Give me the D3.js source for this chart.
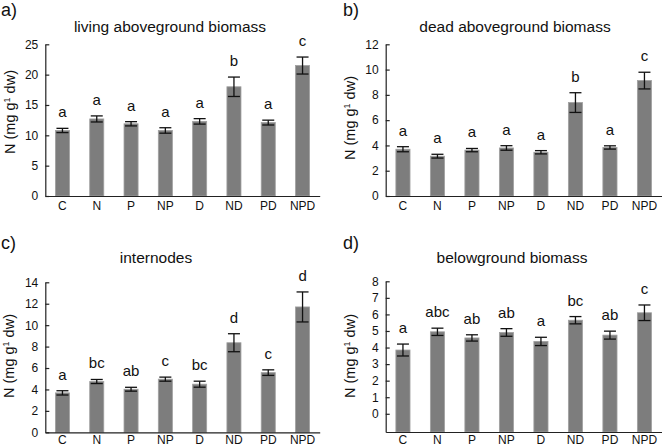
<!DOCTYPE html>
<html>
<head>
<meta charset="utf-8">
<script src="https://cdn.jsdelivr.net/npm/d3@7"></script>
<style>
  html, body { margin: 0; padding: 0; background: #fff; }
  svg { display: block; font-family: "Liberation Sans", Arial, sans-serif; }
</style>
</head>
<body>
<svg id="chart" width="662" height="447"></svg>
<script>
// ---------- data ----------
const categories = ["C", "N", "P", "NP", "D", "ND", "PD", "NPD"];

const livingValues  = [10.8, 12.7, 11.9, 10.8, 12.3, 18.0, 12.1, 21.5];
const livingErrors  = [0.35, 0.5, 0.35, 0.45, 0.45, 1.6, 0.4, 1.4];
const livingLetters = ["a", "a", "a", "a", "a", "b", "a", "c"];
const livingTicks   = [0, 5, 10, 15, 20, 25];

const deadValues  = [3.70, 3.15, 3.63, 3.80, 3.46, 7.39, 3.84, 9.13];
const deadErrors  = [0.2, 0.15, 0.13, 0.18, 0.13, 0.78, 0.13, 0.66];
const deadLetters = ["a", "a", "a", "a", "a", "b", "a", "c"];
const deadTicks   = [0, 2, 4, 6, 8, 10, 12];

const internodeValues  = [3.68, 4.74, 4.02, 4.96, 4.49, 8.36, 5.57, 11.7];
const internodeErrors  = [0.2, 0.19, 0.18, 0.19, 0.28, 0.84, 0.26, 1.4];
const internodeLetters = ["a", "bc", "ab", "c", "bc", "d", "c", "d"];
const internodeTicks   = [0, 2, 4, 6, 8, 10, 12, 14];

const belowValues  = [3.85, 4.95, 4.58, 4.91, 4.37, 5.65, 4.75, 6.1];
const belowErrors  = [0.36, 0.22, 0.19, 0.23, 0.25, 0.22, 0.24, 0.47];
const belowLetters = ["a", "abc", "ab", "ab", "a", "bc", "ab", "c"];
const belowTicks   = [0, 1, 2, 3, 4, 5, 6, 7, 8];

const panelTitles = ["living aboveground biomass", "dead aboveground biomass", "internodes", "belowground biomass"];
const panelTags   = ["a)", "b)", "c)", "d)"];

// ---------- layout ----------
const panels = [
  { tag: panelTags[0], title: panelTitles[0], values: livingValues, errors: livingErrors, letters: livingLetters, ticks: livingTicks,
    domain: [0, 25], x0: 45.3, x1: 319.7, yTop: 44.3, yBot: 196, xPad: 5,
    tagX: 1, tagY: 16, titleX: 170, titleY: 31.5, labX: 10, labY: 112 },
  { tag: panelTags[1], title: panelTitles[1], values: deadValues, errors: deadErrors, letters: deadLetters, ticks: deadTicks,
    domain: [0, 12], x0: 385.7, x1: 661.7, yTop: 44.3, yBot: 196, xPad: 5,
    tagX: 343, tagY: 16, titleX: 515, titleY: 31.5, labX: 350, labY: 118 },
  { tag: panelTags[2], title: panelTitles[2], values: internodeValues, errors: internodeErrors, letters: internodeLetters, ticks: internodeTicks,
    domain: [0, 14], x0: 45.3, x1: 319.7, yTop: 282.3, yBot: 432.3, xPad: 3,
    tagX: 1, tagY: 249, titleX: 156, titleY: 262.5, labX: 9, labY: 356 },
  { tag: panelTags[3], title: panelTitles[3], values: belowValues, errors: belowErrors, letters: belowLetters, ticks: belowTicks,
    domain: [-1.1, 8], x0: 385.7, x1: 661.7, yTop: 281.3, yBot: 432, xPad: 3,
    tagX: 343, tagY: 249, titleX: 512, titleY: 263, labX: 350, labY: 356 }
];

const svg = d3.select("#chart");

panels.forEach(p => {
  const g = svg.append("g");

  const x = d3.scaleBand().domain(categories).range([p.x0, p.x1])
    .paddingInner(0.59).paddingOuter(0.295);
  const y = d3.scaleLinear().domain(p.domain).range([p.yBot, p.yTop]);
  const base = y(p.domain[0]);

  // bars
  g.selectAll("rect.bar").data(categories).enter().append("rect")
    .attr("class", "bar")
    .attr("x", d => x(d))
    .attr("width", x.bandwidth())
    .attr("y", (d, i) => y(p.values[i]))
    .attr("height", (d, i) => base - y(p.values[i]))
    .attr("fill", "#7d7d7d")
    .attr("stroke", "#a0a0a0")
    .attr("stroke-width", 0.8);

  // error bars
  const cap = 6;
  categories.forEach((c, i) => {
    const cx = x(c) + x.bandwidth() / 2;
    const hi = y(p.values[i] + p.errors[i]);
    const lo = y(p.values[i] - p.errors[i]);
    g.append("line").attr("x1", cx).attr("x2", cx).attr("y1", hi).attr("y2", lo)
      .attr("stroke", "#111").attr("stroke-width", 1.3);
    g.append("line").attr("x1", cx - cap).attr("x2", cx + cap).attr("y1", hi).attr("y2", hi)
      .attr("stroke", "#111").attr("stroke-width", 1.3);
    g.append("line").attr("x1", cx - cap).attr("x2", cx + cap).attr("y1", lo).attr("y2", lo)
      .attr("stroke", "#111").attr("stroke-width", 1.3);
    g.append("text").attr("x", cx).attr("y", hi - 11)
      .attr("text-anchor", "middle").attr("font-size", 15).attr("fill", "#111")
      .text(p.letters[i]);
  });

  // y axis
  const yAxis = d3.axisLeft(y).tickValues(p.ticks).tickFormat(d3.format("d"))
    .tickSizeInner(-4).tickSizeOuter(0).tickPadding(7);
  const ya = g.append("g").attr("transform", `translate(${p.x0},0)`).call(yAxis);
  ya.selectAll("path, line").attr("stroke", "#222").attr("stroke-width", 1.2);
  ya.selectAll("text").attr("font-size", 12).attr("fill", "#111")
    .attr("font-family", "\"Liberation Sans\", Arial, sans-serif");

  // x axis
  const xAxis = d3.axisBottom(x).tickSize(0).tickPadding(p.xPad);
  const xa = g.append("g").attr("transform", `translate(0,${base})`).call(xAxis);
  xa.selectAll("path").attr("stroke", "#222").attr("stroke-width", 1.2);
  xa.selectAll("text").attr("font-size", 12).attr("fill", "#111")
    .attr("font-family", "\"Liberation Sans\", Arial, sans-serif");

  // title
  g.append("text").attr("x", p.titleX).attr("y", p.titleY)
    .attr("text-anchor", "middle").attr("font-size", 15.5).attr("fill", "#111")
    .text(p.title);

  // panel tag
  g.append("text").attr("x", p.tagX).attr("y", p.tagY)
    .attr("font-size", 18).attr("fill", "#111").text(p.tag);

  // y label
  const lab = g.append("text")
    .attr("transform", `translate(${p.labX + 5},${p.labY}) rotate(-90)`)
    .attr("text-anchor", "middle").attr("font-size", 14.5).attr("fill", "#111");
  lab.append("tspan").text("N (mg g");
  lab.append("tspan").attr("font-size", 9).attr("dy", -5.5).text("1");
  lab.append("tspan").attr("dy", 5.5).text(" dw)");
});
</script>
</body>
</html>
